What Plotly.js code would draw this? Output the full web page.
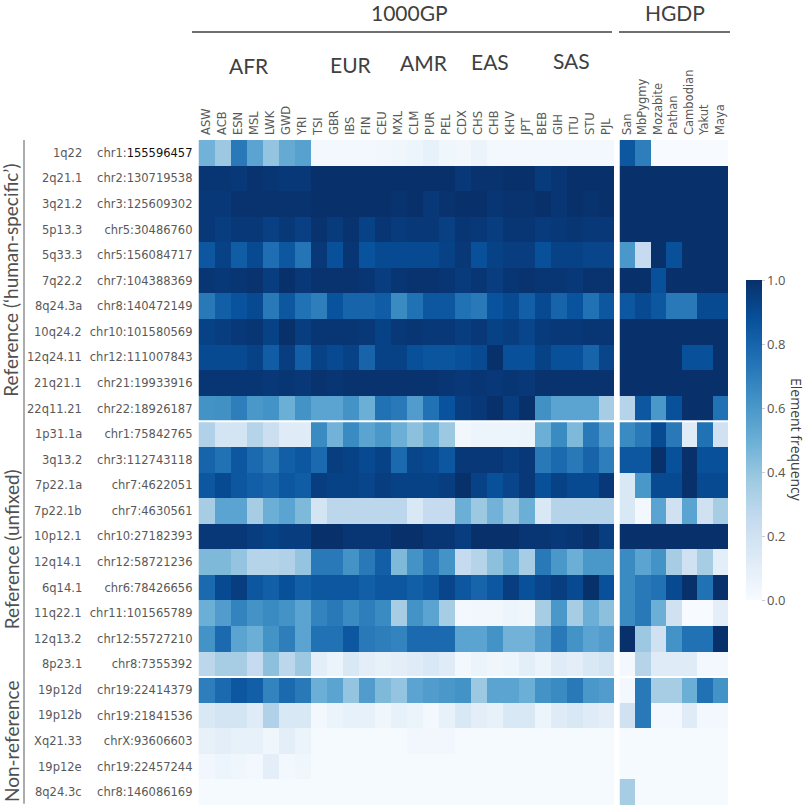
<!DOCTYPE html>
<html>
<head>
<meta charset="utf-8">
<script src="https://cdn.plot.ly/plotly-3.0.1.min.js"></script>
<style>html,body{margin:0;padding:0;background:#fff;}#chart{width:812px;height:810px;}</style>
</head>
<body>
<div id="chart"></div>
<script>
// ---------- DATA ----------
const kgpPops = ["ASW","ACB","ESN","MSL","LWK","GWD","YRI","TSI","GBR","IBS","FIN","CEU","MXL","CLM","PUR","PEL","CDX","CHS","CHB","KHV","JPT","BEB","GIH","ITU","STU","PJL"];
const hgdpPops = ["San","MbPygmy","Mozabite","Pathan","Cambodian","Yakut","Maya"];
const superPops = ["AFR","EUR","AMR","EAS","SAS"];

const bandLabels = ["1q22","2q21.1","3q21.2","5p13.3","5q33.3","7q22.2","8q24.3a","10q24.2","12q24.11","21q21.1","22q11.21",
  "1p31.1a","3q13.2","7p22.1a","7p22.1b","10p12.1","12q14.1","6q14.1","11q22.1","12q13.2","8p23.1",
  "19p12d","19p12b","Xq21.33","19p12e","8q24.3c"];
const chrLabels = ["chr1:155596457","chr2:130719538","chr3:125609302","chr5:30486760","chr5:156084717","chr7:104388369","chr8:140472149","chr10:101580569","chr12:111007843","chr21:19933916","chr22:18926187",
  "chr1:75842765","chr3:112743118","chr7:4622051","chr7:4630561","chr10:27182393","chr12:58721236","chr6:78426656","chr11:101565789","chr12:55727210","chr8:7355392",
  "chr19:22414379","chr19:21841536","chrX:93606603","chr19:22457244","chr8:146086169"];
const groupLabels = ["Reference (\u2018human-specific\u2019)","Reference (unfixed)","Non-reference"];

// 1000GP element frequencies: Reference ('human-specific')
const refHumanKGP = [
  [0.48,0.38,0.72,0.55,0.40,0.52,0.56, 0.02,0.02,0.02,0.02,0.03, 0.04,0.05,0.08,0.04, 0.03,0.06,0.02,0.02,0.02, 0.02,0.02,0.02,0.02,0.02],
  [0.98,0.98,0.97,0.99,0.98,0.97,0.97, 1.00,1.00,1.00,1.00,1.00, 1.00,1.00,1.00,1.00, 0.97,0.99,0.99,1.00,1.00, 0.96,0.98,1.00,1.00,1.00],
  [0.97,0.97,0.99,0.99,0.99,0.99,0.99, 1.00,1.00,1.00,1.00,1.00, 0.99,1.00,0.97,0.99, 1.00,1.00,0.98,0.99,0.99, 1.00,0.98,1.00,0.99,1.00],
  [0.97,0.95,0.97,0.97,0.94,0.97,0.94, 0.99,0.96,0.99,0.93,0.98, 0.96,0.97,0.97,0.94, 0.98,0.97,0.95,0.98,0.98, 0.96,0.97,0.98,0.97,0.97],
  [0.85,0.93,0.83,0.90,0.76,0.85,0.74, 0.97,0.88,0.98,0.87,0.90, 0.90,0.90,0.90,0.93, 0.97,0.88,0.93,0.95,0.95, 0.88,0.93,0.93,0.92,0.92],
  [0.98,0.97,0.98,0.99,0.95,1.00,0.97, 0.99,0.99,0.99,0.98,0.95, 0.98,0.99,0.99,0.98, 0.96,0.98,0.95,0.98,0.99, 0.98,0.98,0.97,0.99,0.99],
  [0.72,0.82,0.87,0.90,0.72,0.85,0.75, 0.70,0.87,0.80,0.80,0.83, 0.65,0.75,0.85,0.85, 0.75,0.72,0.87,0.90,0.82, 0.90,0.80,0.87,0.75,0.85],
  [0.93,0.95,0.97,0.98,0.93,1.00,0.95, 0.98,0.98,0.98,0.97,0.93, 0.97,0.98,0.97,0.97, 0.95,0.97,0.93,0.95,0.92, 0.96,0.97,0.97,0.98,0.98],
  [0.90,0.90,0.90,0.93,0.83,0.95,0.82, 0.93,0.90,0.93,0.80,0.93, 0.93,0.88,0.86,0.86, 0.88,0.90,1.00,0.88,0.88, 0.93,0.88,0.88,0.80,0.92],
  [0.98,0.98,0.98,0.98,0.97,0.98,0.97, 0.99,0.98,0.99,0.99,0.99, 0.99,0.99,0.99,0.98, 0.97,0.98,0.97,0.98,0.97, 0.99,0.99,0.99,0.99,0.99],
  [0.62,0.63,0.70,0.60,0.62,0.50,0.62, 0.55,0.55,0.62,0.50,0.75, 0.72,0.58,0.75,0.87, 0.95,0.97,1.00,0.95,1.00, 0.63,0.55,0.55,0.55,0.35]
];
// 1000GP: Reference (unfixed)
const refUnfixedKGP = [
  [0.32,0.18,0.18,0.30,0.22,0.12,0.12, 0.65,0.48,0.65,0.55,0.60, 0.50,0.42,0.50,0.38, 0.03,0.05,0.05,0.05,0.06, 0.50,0.65,0.45,0.72,0.58],
  [0.80,0.75,0.85,0.78,0.72,0.82,0.85, 0.78,0.95,0.93,0.90,0.93, 0.78,0.92,0.90,0.85, 0.97,0.97,0.97,0.95,0.97, 0.72,0.78,0.72,0.80,0.70],
  [0.85,0.90,0.85,0.82,0.80,0.85,0.83, 0.95,0.93,0.93,0.92,0.95, 0.93,0.93,0.93,0.95, 1.00,0.93,0.88,0.92,0.97, 0.88,0.93,0.90,0.90,0.97],
  [0.35,0.55,0.55,0.35,0.50,0.55,0.45, 0.18,0.28,0.28,0.28,0.28, 0.28,0.15,0.25,0.25, 0.50,0.38,0.48,0.38,0.50, 0.15,0.30,0.30,0.30,0.30],
  [0.97,0.97,0.97,0.95,0.93,0.95,0.95, 1.00,1.00,0.98,0.98,0.98, 1.00,1.00,0.98,0.98, 0.95,1.00,1.00,1.00,0.98, 0.98,0.97,0.98,1.00,0.95],
  [0.45,0.45,0.40,0.30,0.30,0.32,0.40, 0.72,0.72,0.62,0.72,0.82, 0.45,0.62,0.72,0.62, 0.25,0.30,0.42,0.50,0.35, 0.72,0.60,0.50,0.60,0.60],
  [0.78,0.90,0.95,0.85,0.82,0.88,0.82, 0.85,0.85,0.85,0.82,0.85, 0.85,0.82,0.85,0.92, 0.85,0.80,0.85,0.95,0.88, 0.92,0.95,0.90,1.00,0.88],
  [0.50,0.58,0.68,0.62,0.65,0.62,0.55, 0.68,0.72,0.65,0.70,0.65, 0.35,0.62,0.55,0.35, 0.02,0.03,0.03,0.05,0.04, 0.35,0.60,0.35,0.50,0.42],
  [0.62,0.78,0.55,0.50,0.62,0.70,0.55, 0.75,0.75,0.85,0.72,0.70, 0.68,0.78,0.78,0.78, 0.55,0.55,0.62,0.48,0.48, 0.58,0.72,0.62,0.55,0.58],
  [0.28,0.35,0.35,0.25,0.42,0.28,0.38, 0.10,0.06,0.15,0.10,0.08, 0.10,0.12,0.15,0.12, 0.02,0.06,0.04,0.05,0.10, 0.06,0.12,0.10,0.15,0.18]
];
// 1000GP: Non-reference
const nonRefKGP = [
  [0.70,0.78,0.85,0.82,0.68,0.78,0.72, 0.50,0.55,0.40,0.58,0.45, 0.40,0.55,0.58,0.60, 0.62,0.38,0.55,0.55,0.50, 0.62,0.65,0.72,0.60,0.58],
  [0.15,0.18,0.18,0.12,0.32,0.15,0.15, 0.02,0.06,0.08,0.08,0.04, 0.08,0.06,0.02,0.08, 0.15,0.10,0.08,0.15,0.15, 0.05,0.12,0.15,0.12,0.10],
  [0.08,0.10,0.08,0.08,0.04,0.10,0.06, 0.01,0.01,0.01,0.01,0.01, 0.01,0.03,0.03,0.03, 0.01,0.01,0.01,0.01,0.01, 0.01,0.01,0.01,0.01,0.01],
  [0.03,0.05,0.04,0.02,0.10,0.02,0.04, 0.01,0.01,0.01,0.01,0.01, 0.01,0.01,0.01,0.01, 0.01,0.01,0.01,0.01,0.01, 0.01,0.01,0.01,0.01,0.01],
  [0.01,0.01,0.01,0.01,0.01,0.01,0.01, 0.01,0.01,0.01,0.01,0.01, 0.01,0.01,0.01,0.01, 0.01,0.01,0.01,0.01,0.01, 0.01,0.01,0.01,0.01,0.01]
];
// HGDP element frequencies
const refHumanHGDP = [
  [0.85,0.70,0.00,0.00,0.00,0.00,0.00],
  [1.00,1.00,1.00,1.00,1.00,1.00,1.00],
  [1.00,1.00,1.00,1.00,1.00,1.00,1.00],
  [1.00,1.00,1.00,1.00,1.00,1.00,1.00],
  [0.60,0.25,1.00,0.88,1.00,1.00,1.00],
  [1.00,1.00,0.88,1.00,1.00,1.00,1.00],
  [0.85,0.90,0.85,0.72,0.72,0.90,0.90],
  [1.00,1.00,1.00,1.00,1.00,1.00,1.00],
  [1.00,1.00,1.00,1.00,0.88,0.88,1.00],
  [1.00,1.00,1.00,1.00,1.00,1.00,1.00],
  [0.30,0.85,0.60,0.88,1.00,1.00,0.75]
];
const refUnfixedHGDP = [
  [0.65,0.72,0.90,0.72,0.12,0.75,0.20],
  [0.85,0.85,1.00,0.88,1.00,0.88,0.88],
  [0.15,0.60,0.90,0.90,1.00,0.90,0.90],
  [0.15,0.02,0.55,0.20,0.55,0.20,0.35],
  [1.00,1.00,1.00,1.00,1.00,1.00,1.00],
  [0.65,0.55,0.62,0.35,0.20,0.35,0.10],
  [0.65,0.72,0.75,0.90,1.00,0.75,1.00],
  [0.65,0.72,0.50,0.20,0.00,0.00,0.10],
  [1.00,0.38,0.20,0.62,0.75,0.75,1.00],
  [0.02,0.30,0.12,0.12,0.12,0.02,0.02]
];
const nonRefHGDP = [
  [0.02,0.72,0.35,0.35,0.50,0.75,0.62],
  [0.20,0.72,0.02,0.02,0.12,0.02,0.02],
  [0.01,0.01,0.01,0.01,0.01,0.01,0.01],
  [0.01,0.01,0.01,0.01,0.01,0.01,0.01],
  [0.35,0.01,0.01,0.01,0.01,0.01,0.01]
];
const colorbarTicks = [0, 0.2, 0.4, 0.6, 0.8, 1.0];
const colorbarTickText = ["0.0","0.2","0.4","0.6","0.8","1.0"];

// ---------- BUILD ----------
const W = 812, H = 810;
const px = v => v / W, py = v => 1 - v / H;
const rowIdx = bandLabels.map((_, i) => i);
const zKGP = refHumanKGP.concat(refUnfixedKGP, nonRefKGP);
const zHGDP = refHumanHGDP.concat(refUnfixedHGDP, nonRefHGDP);
const nHuman = refHumanKGP.length, nUnf = refUnfixedKGP.length, nNon = nonRefKGP.length;

const blues = [[0,'#f7fbff'],[0.125,'#deebf7'],[0.25,'#c6dbef'],[0.375,'#9ecae1'],[0.5,'#6baed6'],[0.625,'#4292c6'],[0.75,'#2171b5'],[0.875,'#08519c'],[1,'#08306b']];

const traces = [
  {type:'heatmap', x:kgpPops, y:rowIdx, z:zKGP, coloraxis:'coloraxis', xaxis:'x', yaxis:'y', hoverinfo:'x+y+z'},
  {type:'heatmap', x:hgdpPops, y:rowIdx, z:zHGDP, coloraxis:'coloraxis', xaxis:'x2', yaxis:'y', hoverinfo:'x+y+z'}
];

const labelFont = {family:'DejaVu Sans, Verdana, sans-serif', size:11.5, color:'#595959'};
const headFont = {family:'Lato, Open Sans, sans-serif', size:21, color:'#404040'};

const chrTickText = chrLabels.map((t, i) => i === 0 ? t.replace(':', ':<span style="color:#111">') + '</span>' : t);

const annotations = [];
// band labels
bandLabels.forEach((b, i) => annotations.push({x:px(84), xref:'paper', y:i, yref:'y', text:b, showarrow:false, xanchor:'right', yanchor:'middle', font:labelFont}));
// dataset headers
annotations.push({x:px(409), y:py(12), xref:'paper', yref:'paper', text:'1000GP', showarrow:false, font:headFont, xanchor:'center', yanchor:'middle'});
annotations.push({x:px(675), y:py(12), xref:'paper', yref:'paper', text:'HGDP', showarrow:false, font:headFont, xanchor:'center', yanchor:'middle'});
// super-population labels
const superX = [249, 351, 424, 490, 571];
const superY = [65, 64, 63, 62, 61];
superPops.forEach((s, i) => annotations.push({x:px(superX[i]), y:py(superY[i]), xref:'paper', yref:'paper', text:s, showarrow:false, font:headFont, xanchor:'center', yanchor:'middle'}));
// group labels (rotated)
const groupBounds = [[0, nHuman-1],[nHuman, nHuman+nUnf-1],[nHuman+nUnf, nHuman+nUnf+nNon-1]];
groupBounds.forEach((g, i) => annotations.push({x:px(11), xref:'paper', y:(g[0]+g[1])/2, yref:'y', text:groupLabels[i], textangle:-90, showarrow:false, xanchor:'center', yanchor:'middle', font:{family:headFont.family, size:19, color:'#505050'}}));
// colorbar title
annotations.push({x:px(797), y:py(440), xref:'paper', yref:'paper', text:'Element frequency', textangle:90, showarrow:false, xanchor:'center', yanchor:'middle', font:{family:'Open Sans, Liberation Sans, sans-serif', size:14, color:'#404040'}});

const shapes = [];
// header rules
shapes.push({type:'line', xref:'paper', yref:'paper', x0:px(192), x1:px(612), y0:py(32), y1:py(32), line:{color:'#404040', width:1.3}});
shapes.push({type:'line', xref:'paper', yref:'paper', x0:px(619), x1:px(730), y0:py(32), y1:py(32), line:{color:'#404040', width:1.3}});
// group separators (white)
[nHuman - 0.5, nHuman + nUnf - 0.5].forEach(yv => shapes.push({type:'line', xref:'paper', yref:'y', x0:px(190), x1:px(735), y0:yv, y1:yv, line:{color:'#ffffff', width:2}}));
// group brackets
groupBounds.forEach(g => shapes.push({type:'line', xref:'paper', yref:'y', x0:px(24), x1:px(24), y0:g[0]-0.55, y1:g[1]+0.45, line:{color:'#909090', width:1.5}}));

const layout = {
  width: W, height: H,
  margin: {l:0, r:0, t:0, b:0},
  paper_bgcolor:'#ffffff', plot_bgcolor:'#ffffff',
  showlegend:false,
  xaxis: {domain:[px(198.5), px(614)], anchor:'y', side:'top', tickangle:-90, tickfont:labelFont, showgrid:false, zeroline:false, showline:false, ticks:'', ticklabelstandoff:4, fixedrange:true},
  xaxis2: {domain:[px(619.5), px(728)], anchor:'y', side:'top', tickangle:-90, tickfont:labelFont, showgrid:false, zeroline:false, showline:false, ticks:'', ticklabelstandoff:4, fixedrange:true},
  yaxis: {domain:[py(805), py(140)], anchor:'x', range:[bandLabels.length-0.5, -0.5], tickmode:'array', tickvals:rowIdx, ticktext:chrTickText, tickfont:labelFont, showgrid:false, zeroline:false, showline:false, ticks:'', ticklabelstandoff:5, fixedrange:true},
  coloraxis: {
    cmin:0, cmax:1, colorscale:blues,
    colorbar:{x:px(746), xanchor:'left', xpad:0, y:py(440), yanchor:'middle', len:320, lenmode:'pixels', ypad:0, thickness:16, outlinewidth:0,
      tickmode:'array', tickvals:colorbarTicks, ticktext:colorbarTickText, ticks:'outside', ticklen:3, tickcolor:'#cccccc',
      tickfont:{family:'Open Sans, Liberation Sans, sans-serif', size:13, color:'#555555'}}
  },
  annotations: annotations,
  shapes: shapes
};

Plotly.newPlot('chart', traces, layout, {displayModeBar:false, staticPlot:true});
</script>
</body>
</html>
